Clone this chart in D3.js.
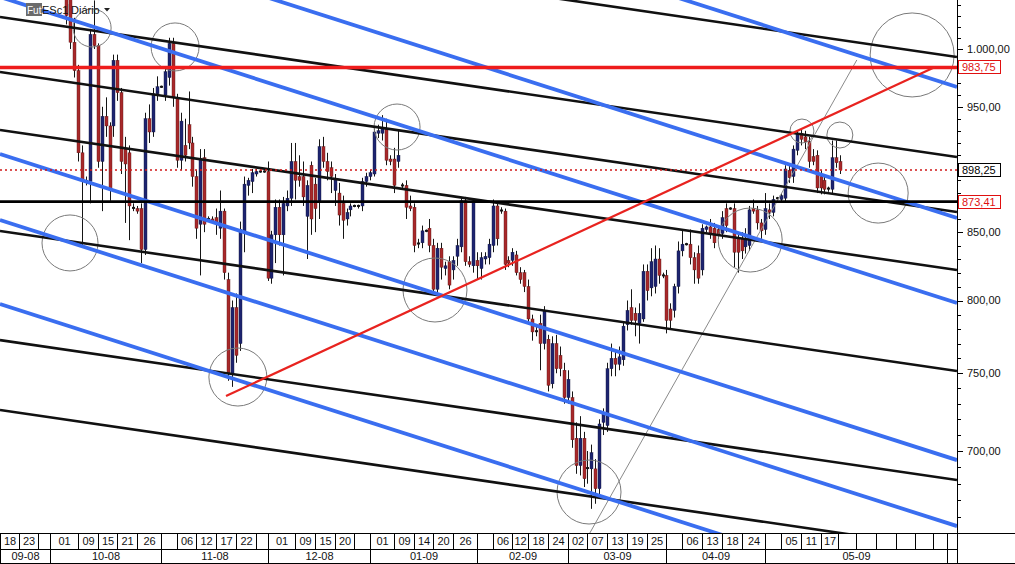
<!DOCTYPE html>
<html><head><meta charset="utf-8">
<script src="https://cdn.jsdelivr.net/npm/d3@7"></script>
<style>
html,body{margin:0;padding:0;background:#fff;}
svg{display:block;font-family:"Liberation Sans",Arial,sans-serif;}
</style></head><body>
<svg id="c" width="1015" height="564"></svg>
<script>
// ---------------- DATA ----------------
const startIndex = 16; // bar index of first open value (index 0 = 18 Sep 2008)
const open = [
1068,1045,1006,981,912,890,889,1013,1003,905,
942,934,934,990,962,915,912,869,868,868,
837,940,929,961,967,960,975,1005,958,906,
918,935,920,893,856,908,860,860,861,853,
866,815,750,795,770,850,886,889,895,897,
897,897,816,848,869,848,870,876,905,893,
893,862,902,887,874,917,905,900,882,880,
872,860,867,870,870,870,889,893,895,928,
928,932,907,907,905,886,886,870,869,842,
842,851,853,840,808,838,823,828,822,832,
839,874,828,825,829,823,830,831,840,870,
866,866,829,829,833,820,820,810,787,778,
784,770,773,743,770,762,752,734,734,708,
691,708,690,689,689,677,718,716,753,760,
756,759,783,795,791,784,787,821,809,810,
830,818,818,794,793,810,836,841,841,831,
834,822,852,854,853,852,849,868,868,868,
846,845,839,840,868,867,857,852,867,865,
876,875,876,898,893,914,928,925,921,909,
910,893,890,883,883,908,905];
const high = [
1082,1060,1028,986,918,893,1018,1044,1005,950,
958,937,995,995,966,925,918,872,870,872,
945,952,966,976,968,985,1010,1010,961,945,
940,963,925,898,915,915,862,862,868,882,
868,820,800,805,858,893,892,899,899,898,
898,905,851,875,875,877,882,920,920,910,
905,890,905,892,923,925,912,905,895,888,
878,868,872,871,871,892,896,898,932,935,
943,940,910,916,931,888,890,878,872,845,
855,852,860,845,842,842,828,832,832,845,
877,877,832,876,835,835,835,845,875,872,
869,868,832,838,836,824,822,815,790,782,
790,796,776,775,776,768,757,752,738,718,
722,712,700,704,695,720,727,757,770,765,
768,785,800,808,795,798,826,826,838,840,
838,820,822,798,812,843,851,842,852,835,
840,856,855,860,857,855,866,872,869,872,
850,850,853,870,875,870,860,880,872,878,
877,880,902,903,918,930,932,930,925,915,
914,898,895,885,922,922,910];
const low = [
1022,1000,975,905,839,886,872,1000,900,866,
925,874,925,955,895,857,844,866,864,827,
833,920,925,955,966,955,968,950,900,898,
905,915,885,845,818,850,858,857,848,845,
815,745,741,757,765,835,878,880,893,896,
896,814,812,827,840,818,866,870,875,885,
870,830,848,850,860,900,890,880,870,855,
845,855,862,869,868,866,885,890,893,924,
922,902,902,880,900,884,860,866,835,838,
838,850,835,805,805,815,818,808,815,825,
835,825,824,820,815,815,826,826,835,840,
864,822,824,825,818,812,806,783,772,775,
752,766,738,740,750,748,730,730,702,686,
685,678,680,665,668,672,710,712,748,748,
752,755,779,783,775,770,785,800,803,805,
812,816,777,780,788,805,832,840,826,812,
812,818,850,845,838,845,845,850,867,824,
820,830,834,836,864,852,845,848,860,862,
875,873,873,888,888,910,918,915,900,902,
880,879,879,881,879,900,895];
const close = [
1030,1006,981,912,890,889,1013,1003,905,942,
934,882,990,962,905,903,870,868,866,837,
940,929,961,967,967,980,1005,958,906,938,
910,920,893,853,907,856,860,858,856,866,
820,750,795,762,852,887,890,896,897,897,
897,816,848,869,848,872,876,905,890,890,
877,886,860,868,917,905,897,893,891,863,
859,865,870,870,870,889,893,896,929,930,
932,906,905,886,910,886,869,868,840,841,
851,851,840,808,838,824,825,811,829,840,
874,828,826,874,825,831,832,841,870,845,
867,826,827,835,820,815,810,787,778,779,
770,793,742,770,753,753,734,746,707,691,
708,683,689,699,677,717,724,753,760,756,
761,782,793,786,786,791,821,807,828,830,
818,818,786,786,810,836,841,841,831,822,
816,853,854,848,842,848,861,855,868,835,
835,836,845,867,866,857,851,868,865,875,
876,878,899,892,915,928,923,921,905,905,
884,884,883,884,908,904,898.25];

const yTickLabels = [700, 750, 800, 850, 950, 1000]; // 900 is hidden behind the last-price box
const lastPrice = 898.25;
const redLevel = 983.75;
const blackLevel = 873.41;

const dayLabels = ["18","23","","01","09","15","21","26","","06","12","17","22","","01","09","15","20","","01","09","14","20","26","","06","12","18","24","02","07","13","19","25","","06","13","18","24","","05","11","17","","","","","",""];
const dayStarts = [-0.72,4,9,12,19,24,29,34,40,44,49,54,59,64,67,74,79,84,89,93,99,104,109,114,120,124,129,133,138,143,148,153,158,163,168,172,177,182,187,193,197,202,207,211.5,216,221,226,231,235.5];
const dayEnd = 239;
const monthLabels = ["09-08","10-08","11-08","12-08","01-09","02-09","03-09","04-09","05-09"];
const monthStarts = [-0.72,12,40,67,93,120,143,168,193];

// trend lines: [index1, price1, index2, price2]
const blackChannel = [
 [-0.72,1124.3,241.55,992.9],
 [-0.72,1028.8,241.55,908.6],
 [-0.72,979.8,241.55,865.3],
 [-0.72,930.7,241.55,821.9],
 [-0.72,850.9,241.55,751.5],
 [-0.72,772.4,241.55,682.2],
 [-0.72,726.0,241.55,641.1]];
const blueChannel = [
 [-0.72,1268.5,241.55,966.8],
 [-0.72,1129.3,241.55,860.7],
 [-0.72,1047.2,241.55,798.2],
 [-0.72,911.0,241.55,694.4],
 [-0.72,859.2,241.55,654.9],
 [-0.72,797.5,241.55,607.9]];
const redTrend = [56.5,735.0,236.0,984.2];
const grayTrend = [148.6,650.9,216.2,990.3];
// circles: [index, price, radius]
const circles = [
 [22.6,1018.8,19],[43.6,1001.8,24],[17.0,841.9,28],[59.5,747.5,29],
 [99.8,933.1,23],[109.4,807.5,32],[148.4,675.0,32],[189.2,844.1,32],
 [202.3,929.8,12],[211.9,926.5,13],[221.6,880.0,30],[230.2,994.7,42]];

// ---------------- CHART ----------------
const W = 1015, H = 564, PR = 957, PB = 533;
const svg = d3.select("#c");
const x = d3.scaleLinear().domain([0, 241]).range([2.85, 2.85 + 3.95 * 241]);
const y = d3.scaleLog().domain([650.9, 1044.4]).range([PB, 0]);
const loc = d3.formatLocale({decimal: ",", thousands: ".", grouping: [3], currency: ["", ""]});
const fmt = loc.format(",.2f");

svg.append("rect").attr("width", W).attr("height", H).attr("fill", "#fff");
svg.append("defs").append("clipPath").attr("id", "plot")
  .append("rect").attr("x", 0).attr("y", 0).attr("width", PR).attr("height", PB);
const plot = svg.append("g").attr("clip-path", "url(#plot)");

// candles
const bars = open.map((o, k) => ({i: startIndex + k, o, h: high[k], l: low[k], c: close[k]}));
const cg = plot.append("g");
bars.forEach(b => {
  const cx = Math.round(x(b.i)) + 0.5;
  const hi = Math.max(b.h, b.o, b.c), lo = Math.min(b.l, b.o, b.c);
  cg.append("line").attr("x1", cx).attr("x2", cx).attr("y1", y(hi)).attr("y2", y(lo))
    .attr("stroke", "#151515").attr("stroke-width", 1);
  const t = y(Math.max(b.o, b.c)), bt = y(Math.min(b.o, b.c));
  const up = b.c >= b.o;
  if (bt - t < 2) {
    cg.append("rect").attr("x", cx - 1.5).attr("y", (t + bt) / 2 - 1).attr("width", 3).attr("height", 2)
      .attr("fill", "#151515");
  } else {
    cg.append("rect").attr("x", cx - 1.5).attr("y", t).attr("width", 3).attr("height", bt - t)
      .attr("fill", up ? "#1d2470" : "#a8282a").attr("stroke", up ? "#10143f" : "#5a1414").attr("stroke-width", 0.4);
  }
});

const seg = (g, d, color, w, dash) => g.append("line")
  .attr("x1", x(d[0])).attr("y1", y(d[1])).attr("x2", x(d[2])).attr("y2", y(d[3]))
  .attr("stroke", color).attr("stroke-width", w).attr("stroke-dasharray", dash || null);

const lg = plot.append("g");
circles.forEach(c => lg.append("circle").attr("cx", x(c[0])).attr("cy", y(c[1])).attr("r", c[2])
  .attr("fill", "none").attr("stroke", "#7a7a7a").attr("stroke-width", 1));
seg(lg, grayTrend, "#8a8a8a", 1);
blackChannel.forEach(d => seg(lg, d, "#111", 2.6));
blueChannel.forEach(d => seg(lg, d, "#3a6ef0", 3.8));
lg.append("line").attr("x1", 0).attr("x2", PR).attr("y1", y(blackLevel)).attr("y2", y(blackLevel))
  .attr("stroke", "#000").attr("stroke-width", 2.8);
lg.append("line").attr("x1", 0).attr("x2", PR).attr("y1", y(lastPrice)).attr("y2", y(lastPrice))
  .attr("stroke", "#d01818").attr("stroke-width", 1.4).attr("stroke-dasharray", "2,3");
lg.append("line").attr("x1", 0).attr("x2", PR).attr("y1", y(redLevel)).attr("y2", y(redLevel))
  .attr("stroke", "#ee1c1c").attr("stroke-width", 3.6);
seg(lg, redTrend, "#e8231f", 2.2);

// right axis
svg.append("line").attr("x1", PR + 0.5).attr("x2", PR + 0.5).attr("y1", 0).attr("y2", H).attr("stroke", "#000");
const minor = d3.range(660, 1041, 10);
svg.append("g").selectAll("line").data(minor).join("line")
  .attr("x1", PR).attr("x2", d => PR + (d % 50 === 0 ? 6 : 4))
  .attr("y1", d => Math.round(y(d)) + 0.5).attr("y2", d => Math.round(y(d)) + 0.5)
  .attr("stroke", "#000");
svg.append("g").selectAll("text").data(yTickLabels).join("text")
  .attr("x", 967).attr("y", d => y(d)).attr("dy", "0.35em")
  .attr("font-size", 11).attr("fill", "#111").text(d => fmt(d));

// value boxes
const box = (v, col) => {
  const yy = Math.round(y(v));
  svg.append("rect").attr("x", PR + 1.5).attr("y", yy - 6.5).attr("width", 42).attr("height", 13)
    .attr("fill", "#fff").attr("stroke", col).attr("stroke-width", 1);
  svg.append("text").attr("x", PR + 5).attr("y", yy).attr("dy", "0.36em").attr("font-size", 11)
    .attr("fill", col).text(loc.format(".2f")(v));
};
box(redLevel, "#e01010");
box(lastPrice, "#000");
box(blackLevel, "#e01010");

// bottom axis
const ax = svg.append("g");
const hline = (yy, x1, x2) => ax.append("line").attr("x1", x1).attr("x2", x2).attr("y1", yy).attr("y2", yy).attr("stroke", "#000");
const vline = (xx, y1, y2) => ax.append("line").attr("x1", xx).attr("x2", xx).attr("y1", y1).attr("y2", y2).attr("stroke", "#000");
const bx = i => i < 0 ? 0.5 : Math.round(x(i)) + 0.5;
hline(PB + 0.5, 0, W);
hline(549.5, 0, PR);
hline(H - 0.5, 0, W);
vline(0.5, PB, H);
dayStarts.forEach((s, k) => {
  const x1 = bx(s), x2 = k + 1 < dayStarts.length ? bx(dayStarts[k + 1]) : bx(dayEnd);
  if (k > 0) vline(x1, PB, 549.5);
  ax.append("text").attr("x", (x1 + x2) / 2).attr("y", 545).attr("text-anchor", "middle")
    .attr("font-size", 11).attr("fill", "#111").text(dayLabels[k]);
});
vline(bx(dayEnd), PB, H);
monthStarts.forEach((s, k) => {
  const x1 = bx(s), x2 = k + 1 < monthStarts.length ? bx(monthStarts[k + 1]) : bx(dayEnd);
  if (k > 0) vline(x1, 549.5, H);
  ax.append("text").attr("x", (x1 + x2) / 2).attr("y", 560).attr("text-anchor", "middle")
    .attr("font-size", 11).attr("fill", "#111").text(monthLabels[k]);
});

// title tag
const tg = svg.append("g");
tg.append("rect").attr("x", 26).attr("y", 3).attr("width", 16).attr("height", 13).attr("fill", "#6b6b6b");
tg.append("text").attr("x", 27).attr("y", 13.5).attr("font-size", 10).attr("fill", "#fff").text("Fut");
tg.append("text").attr("x", 42).attr("y", 14).attr("font-size", 11).attr("fill", "#111").text("ESc1");
tg.append("line").attr("x1", 68.5).attr("x2", 68.5).attr("y1", 4).attr("y2", 15).attr("stroke", "#999");
tg.append("text").attr("x", 71).attr("y", 14).attr("font-size", 11).attr("fill", "#111").text("Diário");
tg.append("path").attr("d", "M104,8 L110,8 L107,11.5 Z").attr("fill", "#222");
</script>
</body></html>
